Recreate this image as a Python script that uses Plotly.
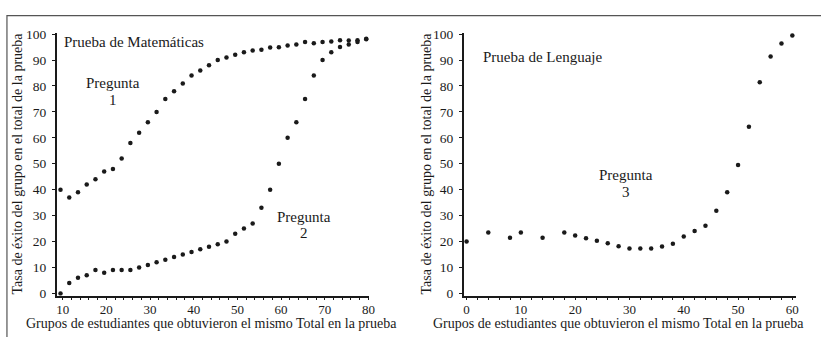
import plotly.graph_objects as go

W, H = 821, 337

# ---- data ----
math_x = [9.5 + 2 * k for k in range(36)]
pregunta1 = [40, 37, 39, 42, 44, 47, 48, 52, 58, 62, 66, 70, 75, 78, 81, 84, 86, 88,
             90, 91, 92, 93, 93.7, 94, 94.8, 94.9, 95.6, 96, 97, 96.5, 97, 97.2, 97.6,
             97.5, 97.6, 98.2]
pregunta2 = [0, 4, 6, 7, 9, 8, 9, 9, 9, 10, 11, 12, 13, 14, 15, 16, 17, 18,
             19, 20, 23, 25, 27, 33, 40, 50, 60, 66, 75, 84, 90, 93, 95, 96, 97, 98]

lang_x = [0, 4, 8, 10, 14, 18, 20, 22, 24, 26, 28, 30, 32, 34, 36, 38, 40, 42, 44,
          46, 48, 50, 52, 54, 56, 58, 60]
pregunta3 = [20, 23.5, 21.5, 23.5, 21.5, 23.5, 22.3, 21.3, 20.3, 19.3, 18.2, 17.3,
             17.3, 17.3, 18.1, 19.1, 21.9, 24.1, 26.1, 31.9, 39, 49.5, 64.3, 81.4,
             91.4, 96.4, 99.5]

x_ticks_math = [10, 20, 30, 40, 50, 60, 70, 80]
x_ticks_lang = [0, 10, 20, 30, 40, 50, 60]
y_ticks = [0, 10, 20, 30, 40, 50, 60, 70, 80, 90, 100]

x_title = "Grupos de estudiantes que obtuvieron el mismo Total en la prueba"
y_title = "Tasa de éxito del grupo en el total de la prueba"

FONT = "Liberation Serif"
INK = "#1a1a1a"

def px(x):
    return x / W

def py(y):
    return (H - y) / H

fig = go.Figure()
mk = dict(size=4.5, color=INK)
fig.add_trace(go.Scatter(x=math_x, y=pregunta1, mode="markers", marker=mk,
                         xaxis="x", yaxis="y", showlegend=False))
fig.add_trace(go.Scatter(x=math_x, y=pregunta2, mode="markers", marker=mk,
                         xaxis="x", yaxis="y", showlegend=False))
fig.add_trace(go.Scatter(x=lang_x, y=pregunta3, mode="markers", marker=mk,
                         xaxis="x2", yaxis="y2", showlegend=False))

ydom = [py(299.5), py(28)]
axis_common = dict(showline=True, linecolor=INK, linewidth=1.5, ticks="outside",
                   ticklen=3, tickcolor=INK, tickwidth=1, showgrid=False,
                   zeroline=False)
yfont = dict(family=FONT, size=13.5, color=INK)
xfont = dict(family=FONT, size=13, color=INK)
xminor = dict(ticks="outside", dtick=2, tick0=0, ticklen=3, tickcolor=INK)

fig.update_layout(
    width=W, height=H, margin=dict(l=0, r=0, t=0, b=0),
    paper_bgcolor="white", plot_bgcolor="white",
    xaxis=dict(domain=[px(57), px(372)], range=[8.6, 80.2], tickvals=x_ticks_math,
               anchor="y", minor=xminor, ticklabelstandoff=-2, tickfont=xfont,
               **axis_common),
    yaxis=dict(domain=ydom, range=[-0.9, 100.4], tickvals=y_ticks, anchor="x",
               ticklabelstandoff=3, tickfont=yfont, **axis_common),
    xaxis2=dict(domain=[px(467), px(802)], range=[-0.55, 60.7], tickvals=x_ticks_lang,
                anchor="y2", minor=xminor, ticklabelstandoff=-2, tickfont=xfont,
                **axis_common),
    yaxis2=dict(domain=ydom, range=[-0.9, 100.4], tickvals=y_ticks, anchor="x2",
                ticklabelstandoff=3, tickfont=yfont, **axis_common),
)

def note(text, x, y, size=14, angle=0, xanchor="center", yanchor="middle"):
    fig.add_annotation(text=text, x=px(x), y=py(y), xref="paper", yref="paper",
                       showarrow=False, textangle=angle, xanchor=xanchor,
                       yanchor=yanchor, borderpad=0,
                       font=dict(family=FONT, size=size, color=INK))

note("Prueba de Matemáticas", 63, 37, size=15, xanchor="left")
note("Pregunta", 114, 80, size=15)
note("1", 114, 97, size=15)
note("Pregunta", 306, 218, size=15)
note("2", 306, 235, size=15)
note("Prueba de Lenguaje", 486, 53, size=15, xanchor="left")
note("Pregunta", 631, 175, size=15)
note("3", 631, 192, size=15)

note(y_title, 18, 163, size=14, angle=-90)
note(y_title, 430, 163, size=14, angle=-90)
note(x_title, 213, 337, size=14, yanchor="bottom")
note(x_title, 623, 337, size=14, yanchor="bottom")

fig.add_shape(type="rect", xref="paper", yref="paper", x0=px(7), y0=-0.2,
              x1=1.2, y1=py(10), line=dict(color="#555", width=1.2))

fig.write_html("out.html")
